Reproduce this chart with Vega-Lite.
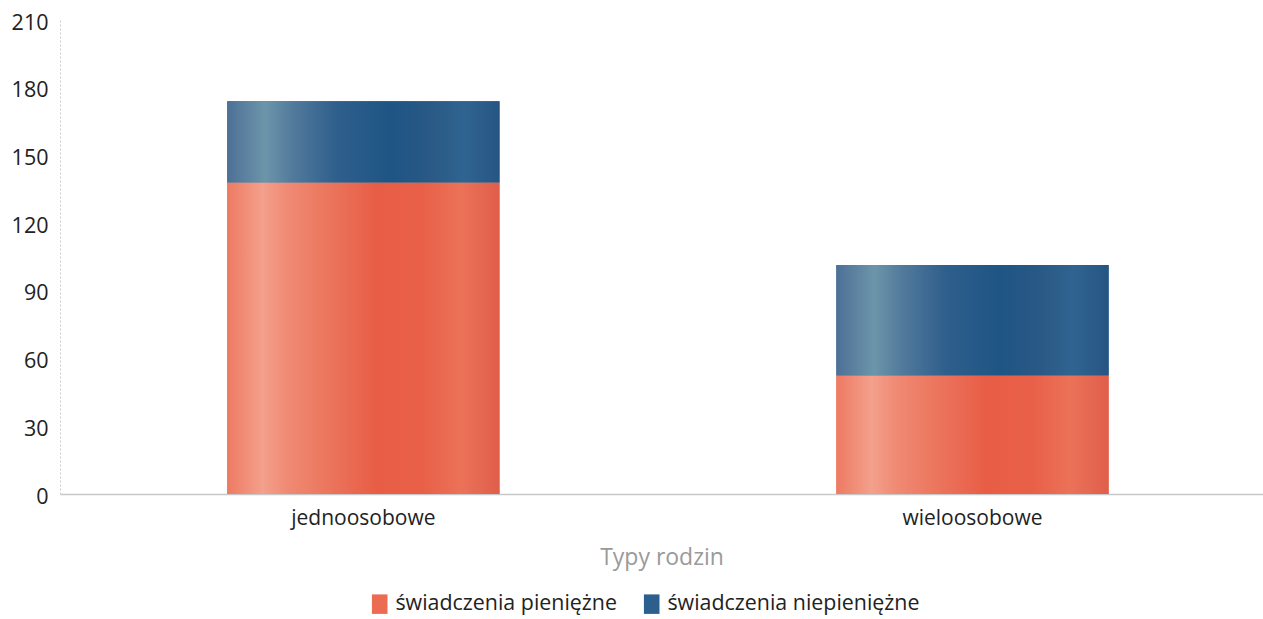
{
  "$schema": "https://vega.github.io/schema/vega-lite/v6.json",
  "autosize": {"type": "none"},
  "width": 1203,
  "height": 474,
  "padding": {"left": 60, "top": 20, "right": 0, "bottom": 125},
  "background": "white",
  "config": {
    "font": "Open Sans",
    "view": {"stroke": null}
  },
  "data": {
    "values": [
      {"typ": "jednoosobowe", "rodzaj": "świadczenia pieniężne", "ord": 1, "wartosc": 138},
      {"typ": "jednoosobowe", "rodzaj": "świadczenia niepieniężne", "ord": 2, "wartosc": 36},
      {"typ": "wieloosobowe", "rodzaj": "świadczenia pieniężne", "ord": 1, "wartosc": 52.5},
      {"typ": "wieloosobowe", "rodzaj": "świadczenia niepieniężne", "ord": 2, "wartosc": 49}
    ]
  },
  "transform": [
    {"stack": "wartosc", "groupby": ["typ"], "sort": [{"field": "ord", "order": "ascending"}], "as": ["v0", "v1"]}
  ],
  "encoding": {
    "x": {
      "field": "typ",
      "type": "nominal",
      "sort": ["jednoosobowe", "wieloosobowe"],
      "scale": {"paddingInner": 0.553, "paddingOuter": 0.264, "align": 0.52},
      "axis": {
        "title": "Typy rodzin",
        "titleColor": "#9a9a9a",
        "titleFontSize": 23,
        "titleFontWeight": "normal",
        "titlePadding": 18,
        "labelAngle": 0,
        "labelFontSize": 21,
        "labelColor": "#222222",
        "labelPadding": 13,
        "ticks": false,
        "domainColor": "#c8c8c8",
        "domainWidth": 1.5
      }
    },
    "y": {
      "field": "v1",
      "type": "quantitative",
      "scale": {"domain": [0, 210], "nice": false},
      "axis": {
        "title": null,
        "values": [0, 30, 60, 90, 120, 150, 180, 210],
        "grid": false,
        "ticks": false,
        "labelFontSize": 21.5,
        "labelColor": "#222222",
        "labelPadding": 12,
        "labelOffset": 3,
        "domainColor": "#cccccc",
        "domainDash": [2, 2],
        "domainWidth": 1
      }
    },
    "y2": {"field": "v0"}
  },
  "layer": [
    {
      "mark": {"type": "bar"},
      "encoding": {
        "color": {
          "field": "rodzaj",
          "type": "nominal",
          "sort": ["świadczenia pieniężne", "świadczenia niepieniężne"],
          "scale": {
            "domain": ["świadczenia pieniężne", "świadczenia niepieniężne"],
            "range": ["#ec6b53", "#2c5e8e"]
          },
          "legend": {
            "title": null,
            "orient": "none",
            "legendX": 309,
            "legendY": 573,
            "direction": "horizontal",
            "symbolType": "M-0.8,-1H0.8V1H-0.8Z",
            "symbolSize": 380,
            "symbolStrokeWidth": 0,
            "labelFontSize": 21.4,
            "labelLimit": 400,
            "labelColor": "#222222",
            "columnPadding": 24,
            "labelOffset": 5
          }
        }
      }
    },
    {
      "transform": [{"filter": "datum.ord == 1"}],
      "mark": {
        "type": "bar",
        "fill": {
          "gradient": "linear",
          "x1": 0, "x2": 1, "y1": 0, "y2": 0,
          "stops": [
            {"offset": 0, "color": "#ee7a62"},
            {"offset": 0.13, "color": "#f3a08c"},
            {"offset": 0.22, "color": "#f08a74"},
            {"offset": 0.35, "color": "#ec7860"},
            {"offset": 0.55, "color": "#e85d46"},
            {"offset": 0.72, "color": "#e96049"},
            {"offset": 0.86, "color": "#eb7258"},
            {"offset": 1, "color": "#e05e4a"}
          ]
        }
      },
      "encoding": {}
    },
    {
      "transform": [{"filter": "datum.ord == 2"}],
      "mark": {
        "type": "bar",
        "fill": {
          "gradient": "linear",
          "x1": 0, "x2": 1, "y1": 0, "y2": 0,
          "stops": [
            {"offset": 0, "color": "#4d7096"},
            {"offset": 0.14, "color": "#6c95aa"},
            {"offset": 0.24, "color": "#527a9c"},
            {"offset": 0.4, "color": "#2f5f8c"},
            {"offset": 0.6, "color": "#1e5584"},
            {"offset": 0.75, "color": "#2a5985"},
            {"offset": 0.87, "color": "#306490"},
            {"offset": 1, "color": "#265584"}
          ]
        }
      },
      "encoding": {}
    }
  ]
}
